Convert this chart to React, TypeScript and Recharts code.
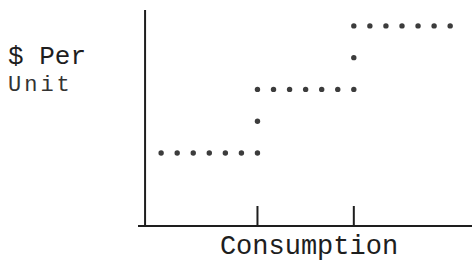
import { ScatterChart, Scatter, XAxis, YAxis, ReferenceLine } from 'recharts';

// stepped price schedule: dots, in grid units
const stepX = [1, 2, 3, 4, 5, 6, 7, 7, 7, 8, 9, 10, 11, 12, 13, 13, 13, 14, 15, 16, 17, 18, 19];
const stepY = [1, 1, 1, 1, 1, 1, 1, 1.5, 2, 2, 2, 2, 2, 2, 2, 2.5, 3, 3, 3, 3, 3, 3, 3];
const blockEdges = [7, 13];

const points = stepX.map((x, i) => ({ x, y: stepY[i] }));

const FONT = '"Liberation Mono", "DejaVu Sans Mono", monospace';
const INK = '#1e1e1e';

function Dot(props: any) {
  return <circle cx={props.cx} cy={props.cy} r={2.7} fill="#3c3c3c" />;
}

export default function App() {
  return (
    <div style={{ position: 'relative', width: 472, height: 261, background: '#fff' }}>
      <style>{'body{margin:0}'}</style>
      <ScatterChart width={472} height={261} margin={{ top: 10, right: 0, bottom: 35, left: 138 }}>
        <XAxis
          type="number"
          dataKey="x"
          domain={[-0.44, 20.36]}
          ticks={blockEdges}
          mirror
          tickSize={20}
          tickFormatter={() => ''}
          axisLine={{ stroke: INK, strokeWidth: 2 }}
          tickLine={{ stroke: INK, strokeWidth: 2 }}
          allowDataOverflow
        />
        <YAxis type="number" dataKey="y" domain={[-0.15, 3.25]} hide allowDataOverflow />
        <ReferenceLine x={0} stroke={INK} strokeWidth={2} />
        <Scatter data={points} shape={Dot} isAnimationActive={false} />
      </ScatterChart>
      <svg
        width={472}
        height={261}
        style={{ position: 'absolute', left: 0, top: 0, pointerEvents: 'none' }}
      >
        <text x={8} y={64} fontFamily={FONT} fontSize={26} fill={INK}>
          $ Per
        </text>
        <text x={8} y={91} fontFamily={FONT} fontSize={22} letterSpacing={3} fill="#333">
          Unit
        </text>
        <text x={309} y={254} textAnchor="middle" fontFamily={FONT} fontSize={27} fill={INK}>
          Consumption
        </text>
      </svg>
    </div>
  );
}
